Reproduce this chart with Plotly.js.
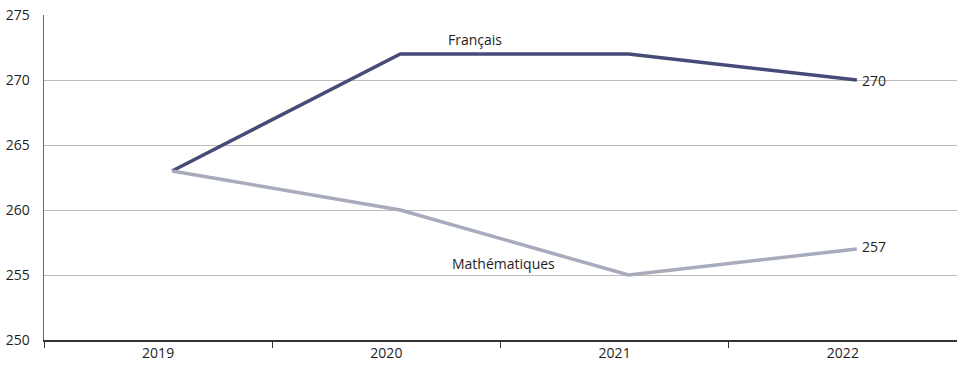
<!DOCTYPE html>
<html><head><meta charset="utf-8">
<script src="https://cdn.plot.ly/plotly-3.0.1.min.js"></script>
<style>html,body{margin:0;padding:0;background:#fff}#chart{width:957px;height:368px}</style>
</head><body><div id="chart"></div>
<script>
const years = ["2019", "2020", "2021", "2022"];
const francais = [263, 272, 272, 270];
const maths = [263, 260, 255, 257];
const yTicks = [250, 255, 260, 265, 270, 275];

const font = {family: "Open Sans, Lato, sans-serif", size: 14, color: "#1e1e1e"};

const traces = [
  {x: years, y: francais, xaxis: "x2", yaxis: "y", type: "scatter", mode: "lines", name: "Français",
   line: {color: "#464b78", width: 3.5}, hoverinfo: "skip"},
  {x: years, y: maths, xaxis: "x2", yaxis: "y", type: "scatter", mode: "lines", name: "Mathématiques",
   line: {color: "#a8abbc", width: 3.5}, hoverinfo: "skip"},
  {x: years, y: francais, xaxis: "x", yaxis: "y", type: "scatter", mode: "none",
   showlegend: false, hoverinfo: "skip"}
];

const layout = {
  width: 957, height: 368,
  margin: {l: 44, r: 0, t: 15, b: 28},
  paper_bgcolor: "#fff", plot_bgcolor: "#fff",
  showlegend: false,
  font: font,
  xaxis: {
    type: "category", range: [-0.5, 3.5],
    showgrid: false, showline: true, linecolor: "#333", linewidth: 1.5,
    ticks: "outside", tickson: "boundaries", ticklen: 6, tickcolor: "#333",
    tickfont: font, zeroline: false
  },
  xaxis2: {
    type: "category", range: [-0.561, 3.439], overlaying: "x",
    visible: false, showgrid: false, zeroline: false
  },
  yaxis: {
    range: [250, 275], tickvals: yTicks, ticktext: yTicks.map(String),
    showgrid: true, gridcolor: "#bcbcbc", gridwidth: 1,
    showline: true, linecolor: "#666", linewidth: 1.5,
    ticks: "", ticklabelstandoff: 10, tickfont: font, zeroline: false
  },
  annotations: [
    {x: 1.327, y: 273.15, xref: "x2", yref: "y", text: "Français", showarrow: false, font: font},
    {x: 1.452, y: 255.9, xref: "x2", yref: "y", text: "Mathématiques", showarrow: false, font: font},
    {x: 3, y: francais[3], xref: "x2", yref: "y", text: String(francais[3]), showarrow: false,
     xanchor: "left", xshift: 3, font: font},
    {x: 3, y: maths[3], xref: "x2", yref: "y", text: String(maths[3]), showarrow: false,
     xanchor: "left", xshift: 3, yshift: 3, font: font}
  ]
};

Plotly.newPlot("chart", traces, layout, {displayModeBar: false, staticPlot: true});
</script></body></html>
